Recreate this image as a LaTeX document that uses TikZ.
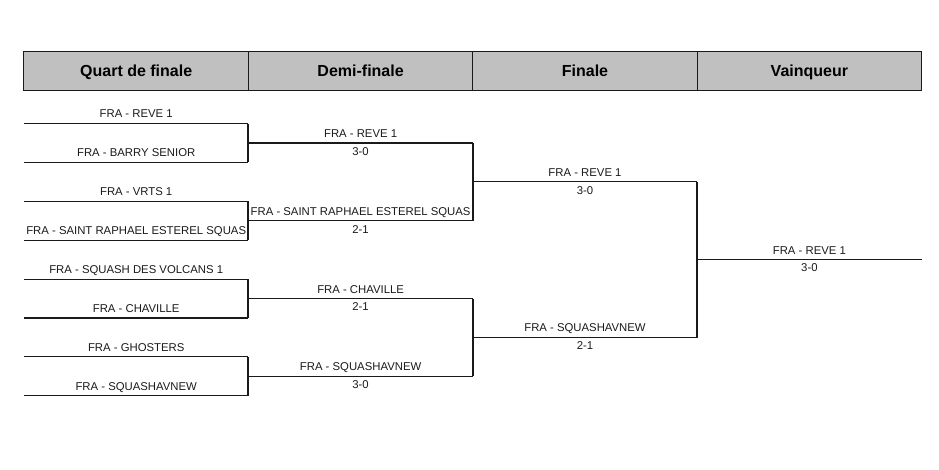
\documentclass[tikz,border=0pt]{standalone}
\usepackage{fontspec}
\setmainfont{Liberation Sans}
\definecolor{hdrgray}{HTML}{C0C0C0}
\definecolor{ink}{HTML}{1A1A1A}
\begin{document}
\begin{tikzpicture}[x=0.75pt,y=-0.75pt,
  line/.style={draw=ink, line width=0.8pt},
  hdr/.style={draw=ink, line width=0.8pt, fill=hdrgray, minimum width=168.4pt, minimum height=29pt, inner sep=0pt, text height=8.6pt, text depth=0pt, font=\fontsize{12}{14}\selectfont\bfseries},
  lbl/.style={anchor=base, inner sep=0pt, font=\fontsize{8.5}{10}\selectfont, text=ink}]
\useasboundingbox (0,0) rectangle (939,469);
% header
\node[hdr] (h1) at (136.2,71.2) {Quart de finale};
\node[hdr] (h2) at (360.6,71.2) {Demi-finale};
\node[hdr] (h3) at (585.0,71.2) {Finale};
\node[hdr] (h4) at (809.4,71.2) {Vainqueur};
% quarter finals
\foreach \i/\y/\t in {1/123.5/FRA - REVE 1, 2/162.4/FRA - BARRY SENIOR, 3/201.3/FRA - VRTS 1, 4/240.2/FRA - SAINT RAPHAEL ESTEREL SQUAS, 5/279.1/FRA - SQUASH DES VOLCANS 1, 6/318.0/FRA - CHAVILLE, 7/356.9/FRA - GHOSTERS, 8/395.8/FRA - SQUASHAVNEW}{
  \coordinate (qL\i) at (24,\y);
  \coordinate (qR\i) at (248,\y);
  \draw[line] (qL\i) -- (qR\i);
  \node[lbl] (qt\i) at (136.2,\y-5.6) {\t};
}
\draw[line] (qR1) -- (qR2);
\draw[line] (qR3) -- (qR4);
\draw[line] (qR5) -- (qR6);
\draw[line] (qR7) -- (qR8);
% semi finals
\foreach \i/\y/\t/\s in {1/143.0/FRA - REVE 1/3-0, 2/220.8/FRA - SAINT RAPHAEL ESTEREL SQUAS/2-1, 3/298.6/FRA - CHAVILLE/2-1, 4/376.4/FRA - SQUASHAVNEW/3-0}{
  \coordinate (sL\i) at (248,\y);
  \coordinate (sR\i) at (473,\y);
  \draw[line] (sL\i) -- (sR\i);
  \node[lbl] (st\i) at (360.6,\y-5.6) {\t};
  \node[lbl] (ss\i) at (360.6,\y+12.2) {\s};
}
\draw[line] (sR1) -- (sR2);
\draw[line] (sR3) -- (sR4);
% finals
\foreach \i/\y/\t/\s in {1/181.9/FRA - REVE 1/3-0, 2/337.5/FRA - SQUASHAVNEW/2-1}{
  \coordinate (fL\i) at (473,\y);
  \coordinate (fR\i) at (697,\y);
  \draw[line] (fL\i) -- (fR\i);
  \node[lbl] (ft\i) at (585.0,\y-5.6) {\t};
  \node[lbl] (fs\i) at (585.0,\y+12.2) {\s};
}
\draw[line] (fR1) -- (fR2);
% winner
\coordinate (wL) at (697,259.7);
\coordinate (wR) at (922,259.7);
\draw[line] (wL) -- (wR);
\node[lbl] (wt) at (809.4,259.7-5.6) {FRA - REVE 1};
\node[lbl] (ws) at (809.4,259.7+12.2) {3-0};
\end{tikzpicture}
\end{document}
